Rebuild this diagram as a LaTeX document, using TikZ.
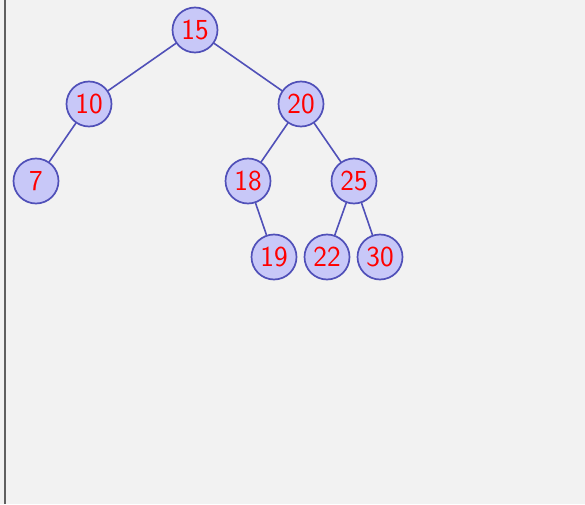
\documentclass[tikz,border=0pt]{standalone}
\usepackage{xcolor}
\definecolor{bg}{HTML}{F2F2F2}
\definecolor{nodefill}{HTML}{C8C8F8}
\definecolor{nodeline}{HTML}{5050B8}
\definecolor{frameline}{HTML}{606060}
\begin{document}
\begin{tikzpicture}[x=1pt,y=1pt,
  tn/.style={circle,draw=nodeline,fill=nodefill,line width=1.7pt,minimum size=45pt,inner sep=0pt,
    text=red,font=\sffamily\fontsize{29}{29}\selectfont},
  edge/.style={draw=nodeline,line width=1.6pt}]
\fill[bg] (0,0) rectangle (585,504);
\useasboundingbox (0,0) rectangle (585,504);
\draw[frameline,line width=1.5pt] (5,0) -- (5,504);
\node[tn] (n15) at (195,474) {15};
\node[tn] (n10) at (89,400) {10};
\node[tn] (n20) at (301,400) {20};
\node[tn] (n7) at (36,323) {7};
\node[tn] (n18) at (248,323) {18};
\node[tn] (n25) at (354,323) {25};
\node[tn] (n19) at (274,247) {19};
\node[tn] (n22) at (327,247) {22};
\node[tn] (n30) at (380,247) {30};
\draw[edge] (n15) -- (n10);
\draw[edge] (n15) -- (n20);
\draw[edge] (n10) -- (n7);
\draw[edge] (n20) -- (n18);
\draw[edge] (n20) -- (n25);
\draw[edge] (n18) -- (n19);
\draw[edge] (n25) -- (n22);
\draw[edge] (n25) -- (n30);
\end{tikzpicture}
\end{document}
